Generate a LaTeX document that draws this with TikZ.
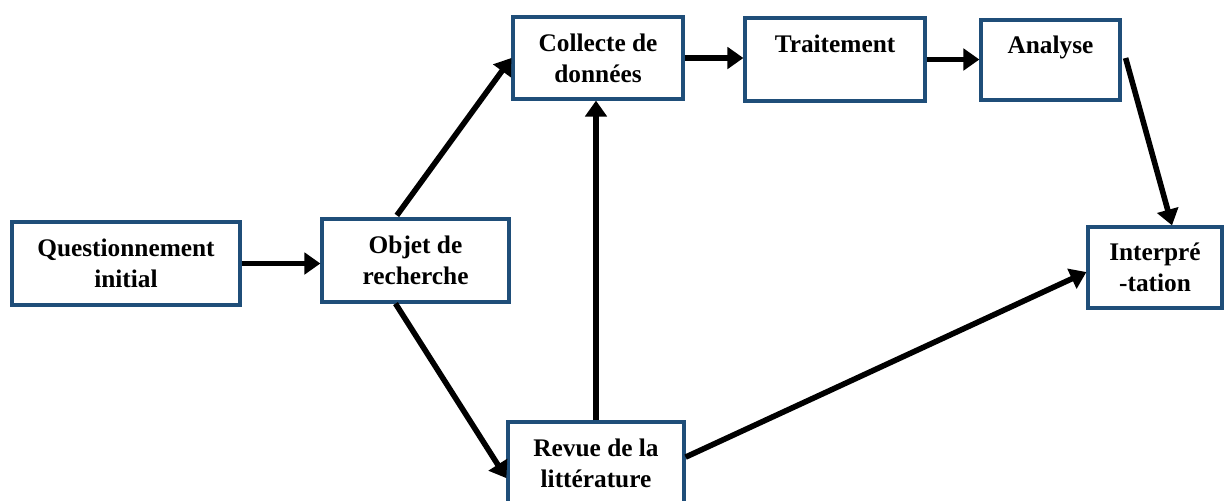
\documentclass[tikz,border=0pt]{standalone}
\usepackage{fontspec}
\setmainfont{Liberation Serif}
\usetikzlibrary{arrows.meta}
\definecolor{boxblue}{RGB}{31,78,121}
\begin{document}
\begin{tikzpicture}[x=0.75pt,y=-0.75pt,
  box/.style={draw=boxblue, line width=2.4pt, fill=white, rectangle, inner sep=0pt,
    align=center, font=\bfseries\fontsize{19}{23}\selectfont},
  arr/.style={draw=black, line width=4.2pt, -{Triangle[length=12pt,width=16pt]}}]
\clip (0,0) rectangle (1224,500);
\fill[white] (0,0) rectangle (1224,500);
\node[box, minimum width=171pt, minimum height=62.25pt] (Q) at (126,263.5) {Questionnement\\initial};
\node[box, minimum width=140.25pt, minimum height=62.25pt] (O) at (415.5,260.5) {Objet de\\recherche};
\node[box, minimum width=127.5pt, minimum height=61.5pt] (C) at (598,58) {Collecte de\\données};
\node[box, minimum width=135pt, minimum height=62.25pt] (T) at (835,59.5) {Traitement\\\phantom{x}};
\node[box, minimum width=104.25pt, minimum height=60pt] (A) at (1050.5,60) {Analyse\\\phantom{x}};
\node[box, minimum width=100.5pt, minimum height=60.75pt] (I) at (1155,267.5) {Interpré\\-tation};
\node[box, minimum width=132pt, minimum height=62.25pt] (R) at (596,463.5) {Revue de la\\littérature};

\draw[arr] (Q.east) -- (Q.east -| O.west);
\draw[arr] ([xshift=-14pt,yshift=1.5pt]O.north) -- (C.west);
\draw[arr] ([xshift=-15pt]O.south) -- ([yshift=-11pt]R.west);
\draw[arr] (R.north) -- (R.north |- C.south);
\draw[arr] (C.east) -- (C.east -| T.west);
\draw[arr] (T.east) -- (T.east -| A.west);
\draw[arr] ([xshift=3pt,yshift=1.5pt]A.east) -- ([xshift=12.75pt]I.north);
\draw[arr] ([yshift=4.8pt]R.east) -- ([yshift=-3.4pt]I.west);
\end{tikzpicture}
\end{document}
